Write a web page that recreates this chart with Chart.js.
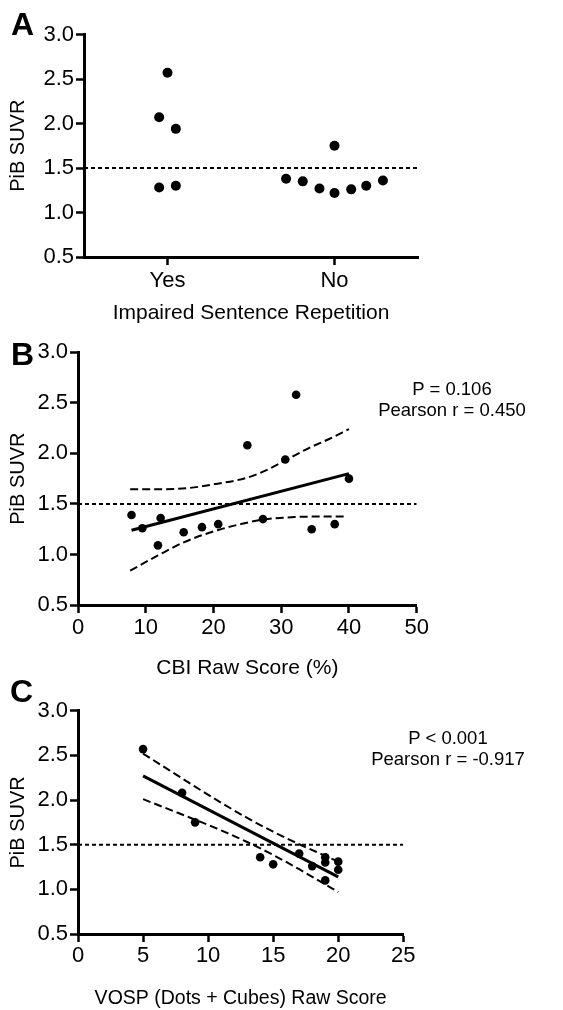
<!DOCTYPE html>
<html><head><meta charset="utf-8">
<script src="https://cdn.jsdelivr.net/npm/chart.js@4.4.1/dist/chart.umd.min.js"></script>
<style>
html,body{margin:0;padding:0;background:#fff;width:563px;height:1010px;overflow:hidden;font-family:"Liberation Sans",Arial,Helvetica,sans-serif;color:#000;}
.panel{position:absolute;left:0;width:563px;}
.letter{position:absolute;font-weight:bold;font-size:32px;line-height:1;}
.note{position:absolute;font-size:18.5px;line-height:21px;text-align:center;width:220px;white-space:nowrap;}
</style></head><body>
<div class="panel" style="top:0;height:330px"><canvas id="ca" width="563" height="330"></canvas></div>
<div class="panel" style="top:330px;height:355px"><canvas id="cb" width="563" height="355"></canvas></div>
<div class="panel" style="top:685px;height:325px"><canvas id="cc" width="563" height="325"></canvas></div>
<div class="letter" style="left:11px;top:8px">A</div>
<div class="letter" style="left:11px;top:338px">B</div>
<div class="letter" style="left:10px;top:675px">C</div>
<div class="note" style="left:342px;top:378px">P = 0.106<br>Pearson r = 0.450</div>
<div class="note" style="left:338px;top:727px">P &lt; 0.001<br>Pearson r = -0.917</div>
<script>
const FONT = '"Liberation Sans", Arial, Helvetica, sans-serif';

// ---- shared ----
const yTickValues = [0.5, 1.0, 1.5, 2.0, 2.5, 3.0];
const yTickLabels = ['0.5', '1.0', '1.5', '2.0', '2.5', '3.0'];
const yTitle = 'PiB SUVR';
const threshold = 1.5;

// ---- Panel A: Impaired Sentence Repetition ----
const aCategories = ['Yes', 'No'];
const aTitle = 'Impaired Sentence Repetition';
const aYesX = [-0.05, 0.0, 0.05, -0.05, 0.05];          // column-scatter positions around "Yes" (index 0)
const aYesY = [2.07, 2.57, 1.94, 1.28, 1.30];
const aNoX  = [1.0, 0.71, 0.81, 0.91, 1.0, 1.10, 1.19, 1.29]; // around "No" (index 1)
const aNoY  = [1.75, 1.38, 1.35, 1.27, 1.22, 1.26, 1.30, 1.36];

// ---- Panel B: CBI ----
const bTitle = 'CBI Raw Score (%)';
const bXTicks = [0, 10, 20, 30, 40, 50];
const bCBI  = [7.9, 9.5, 12.2, 11.8, 15.6, 18.3, 20.7, 25.0, 27.3, 30.6, 32.2, 34.5, 37.9, 40.0];
const bSUVR = [1.39, 1.26, 1.36, 1.09, 1.22, 1.27, 1.30, 2.08, 1.35, 1.94, 2.58, 1.25, 1.30, 1.75];
const bFitX = [7.9, 40.0];
const bFitY = [1.24, 1.80];
const bUpperX = [7.7, 12, 16, 20.6, 25, 28, 30.6, 34, 37, 40];
const bUpperY = [1.645, 1.645, 1.655, 1.70, 1.76, 1.84, 1.93, 2.05, 2.14, 2.24];
const bLowerX = [7.7, 11.8, 15.6, 20.6, 24, 27.3, 32, 36, 39.7];
const bLowerY = [0.84, 0.99, 1.12, 1.24, 1.30, 1.345, 1.37, 1.375, 1.375];

// ---- Panel C: VOSP ----
const cTitle = 'VOSP (Dots + Cubes) Raw Score';
const cXTicks = [0, 5, 10, 15, 20, 25];
const cVOSP = [5, 8, 9, 14, 15, 17, 18, 19, 19, 19, 20, 20];
const cSUVR = [2.57, 2.08, 1.75, 1.36, 1.28, 1.40, 1.26, 1.36, 1.30, 1.10, 1.31, 1.22];
const cFitX = [5, 20];
const cFitY = [2.27, 1.14];
const cBandX  = [5, 7, 9, 11, 13, 15, 17, 19, 20];
const cUpperY = [2.52, 2.335, 2.15, 1.97, 1.80, 1.645, 1.505, 1.375, 1.31];
const cLowerY = [2.01, 1.895, 1.78, 1.66, 1.53, 1.385, 1.225, 1.055, 0.97];

const zip = (xs, ys) => xs.map((x, i) => ({x: x, y: ys[i]}));

function pointsDs(xs, ys, r) {
  return {data: zip(xs, ys), pointRadius: r, pointBackgroundColor: '#000', pointBorderWidth: 0, showLine: false};
}
function lineDs(xs, ys, width, dash, smooth) {
  return {data: zip(xs, ys), pointRadius: 0, showLine: true, borderColor: '#000', borderWidth: width,
          borderDash: dash, cubicInterpolationMode: smooth ? 'monotone' : 'default', fill: false};
}

function makeChart(id, cfg) {
  const axisBorder = {display: true, color: '#000', width: 3};
  const tickGrid = {display: true, drawOnChartArea: false, drawTicks: true, tickLength: 8, tickWidth: 2.5, tickColor: '#000'};
  new Chart(document.getElementById(id), {
    type: 'scatter',
    data: {datasets: cfg.datasets},
    options: {
      responsive: false, animation: false, devicePixelRatio: 1,
      layout: {padding: {top: cfg.padTop, left: 0, right: cfg.padRight, bottom: 0}},
      plugins: {legend: {display: false}, tooltip: {enabled: false}},
      scales: {
        x: {
          type: 'linear', min: cfg.xMin, max: cfg.xMax,
          afterFit: s => { s.height = cfg.xH; },
          afterBuildTicks: s => { s.ticks = cfg.xTicks.map(v => ({value: v})); },
          border: axisBorder, grid: tickGrid,
          ticks: {color: '#000', font: {size: 22, family: FONT}, padding: cfg.xTickPad, autoSkip: false, maxRotation: 0,
                  callback: (v, i) => cfg.xLabels[i]},
          title: {display: true, text: cfg.xTitle, color: '#000', font: {size: cfg.xTitleSize, family: FONT}, padding: {top: 0, bottom: cfg.xTitlePad}}
        },
        y: {
          type: 'linear', min: 0.5, max: 3.0,
          afterFit: s => { s.width = cfg.yW; },
          afterBuildTicks: s => { s.ticks = yTickValues.map(v => ({value: v})); },
          border: axisBorder, grid: tickGrid,
          ticks: {color: '#000', font: {size: 22, family: FONT}, padding: 2, callback: (v, i) => yTickLabels[i]},
          title: {display: true, text: yTitle, color: '#000', font: {size: 20, family: FONT}, padding: {top: 6, bottom: 0}}
        }
      }
    }
  });
}

// Panel A
makeChart('ca', {
  padTop: 34.5, padRight: 145, yW: 84, xH: 73, xTickPad: 3, xTitlePad: 4, xTitleSize: 21,
  xMin: -0.5, xMax: 1.5, xTicks: [0, 1], xLabels: aCategories, xTitle: aTitle,
  datasets: [
    pointsDs(aYesX, aYesY, 5),
    pointsDs(aNoX, aNoY, 5),
    lineDs([-0.5, 1.5], [threshold, threshold], 2, [4, 3], false)
  ]
});

// Panel B
makeChart('cb', {
  padTop: 22.3, padRight: 146.3, yW: 78, xH: 80, xTickPad: 2, xTitlePad: 4, xTitleSize: 21,
  xMin: 0, xMax: 50, xTicks: bXTicks, xLabels: bXTicks.map(String), xTitle: bTitle,
  datasets: [
    pointsDs(bCBI, bSUVR, 4.3),
    lineDs(bFitX, bFitY, 3, [], false),
    lineDs(bUpperX, bUpperY, 2, [8, 4], true),
    lineDs(bLowerX, bLowerY, 2, [8, 4], true),
    lineDs([0, 50], [threshold, threshold], 2, [4, 3], false)
  ]
});

// Panel C
makeChart('cc', {
  padTop: 25.7, padRight: 159.7, yW: 78, xH: 76, xTickPad: 1, xTitlePad: 0, xTitleSize: 19.5,
  xMin: 0, xMax: 25, xTicks: cXTicks, xLabels: cXTicks.map(String), xTitle: cTitle,
  datasets: [
    pointsDs(cVOSP, cSUVR, 4.3),
    lineDs(cFitX, cFitY, 3, [], false),
    lineDs(cBandX, cUpperY, 2, [8, 4], true),
    lineDs(cBandX, cLowerY, 2, [8, 4], true),
    lineDs([0, 25], [threshold, threshold], 2, [4, 3], false)
  ]
});
</script>
</body></html>
